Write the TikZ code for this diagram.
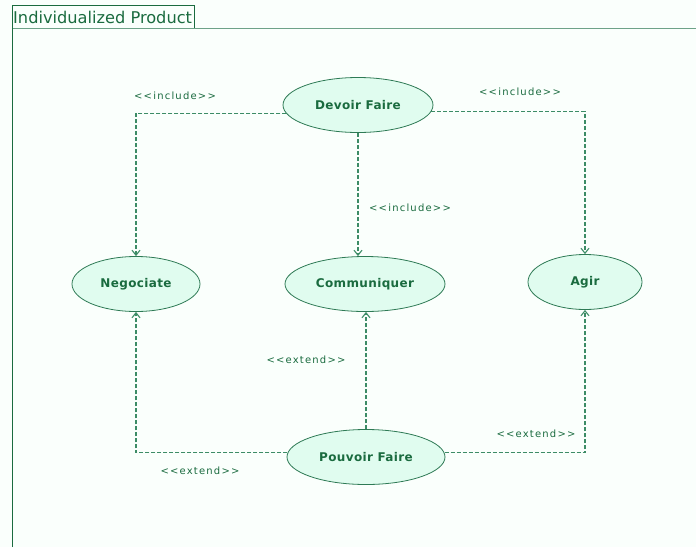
\documentclass[tikz,border=0pt]{standalone}
\usepackage{fontspec}
\setmainfont{DejaVu Sans}
\newfontfamily\lblfont[LetterSpace=12]{DejaVu Sans}
\newfontfamily\ucfont[LetterSpace=3]{DejaVu Sans}
\usetikzlibrary{arrows.meta,shapes.geometric}
\definecolor{vertfonce}{HTML}{1A6B3F}
\definecolor{vertbord}{HTML}{2E7A55}
\definecolor{vertligne}{HTML}{3C8C66}
\definecolor{menthe}{HTML}{E0FCEF}
\definecolor{fond}{HTML}{FAFFFC}

\begin{document}
\begin{tikzpicture}[x=1pt,y=-1pt,
  usecase/.style={ellipse,draw=vertbord,fill=menthe,line width=0.8pt,inner sep=0pt,font=\ucfont\fontsize{12}{14}\selectfont\bfseries\color{vertfonce}},
  rel/.style={draw=vertligne,line width=1.1pt,dash pattern=on 4pt off 2pt,-{Straight Barb[length=5pt,width=8pt]}},
  stereo/.style={font=\lblfont\fontsize{10}{12}\selectfont\color{vertfonce},inner sep=1pt}]
  \fill[fond] (0,0) rectangle (696,547);
  \useasboundingbox (0,0) rectangle (696,547);
  % frame of the diagram
  \draw[vertbord!70,line width=1pt] (12,28) -- (696,28);
  \draw[vertfonce,line width=1pt] (12,547) -- (12,5) -- (194,5) -- (194,28);
  \node[anchor=west,inner sep=0pt,font=\fontsize{16.2}{18}\selectfont\color{vertfonce}] (titre) at (13,17) {Individualized Product};
  % use cases
  \foreach \n/\x/\y/\w/\t in {
      devoir/358/105/150/{Devoir Faire},
      nego/136/284/128/{Negociate},
      comm/365/284/160/{Communiquer},
      agir/585/282/114/{Agir},
      pouvoir/366/457/158/{Pouvoir Faire}}{
    \node[usecase,minimum width=\w pt,minimum height=55pt] (\n) at (\x,\y) {\t};
  }
  % relations
  \draw[rel] (devoir.187) -| (nego.north);
  \draw[rel] (devoir.355) -| (agir.north);
  \draw[rel] (devoir.south) -- (devoir.south |- comm.north);
  \draw[rel] (pouvoir.177) -| (nego.south);
  \draw[rel] (pouvoir.north) -- (pouvoir.north |- comm.south);
  \draw[rel] (pouvoir.3) -| (agir.south);
  \foreach \n/\x/\y/\t in {
      inc1/175/96/include, inc2/520/92/include, inc3/410/208/include,
      ext1/306/360/extend, ext2/536/434/extend, ext3/200/471/extend}{
    \node[stereo] (\n) at (\x,\y) {<<\t>>};
  }
\end{tikzpicture}
\end{document}
